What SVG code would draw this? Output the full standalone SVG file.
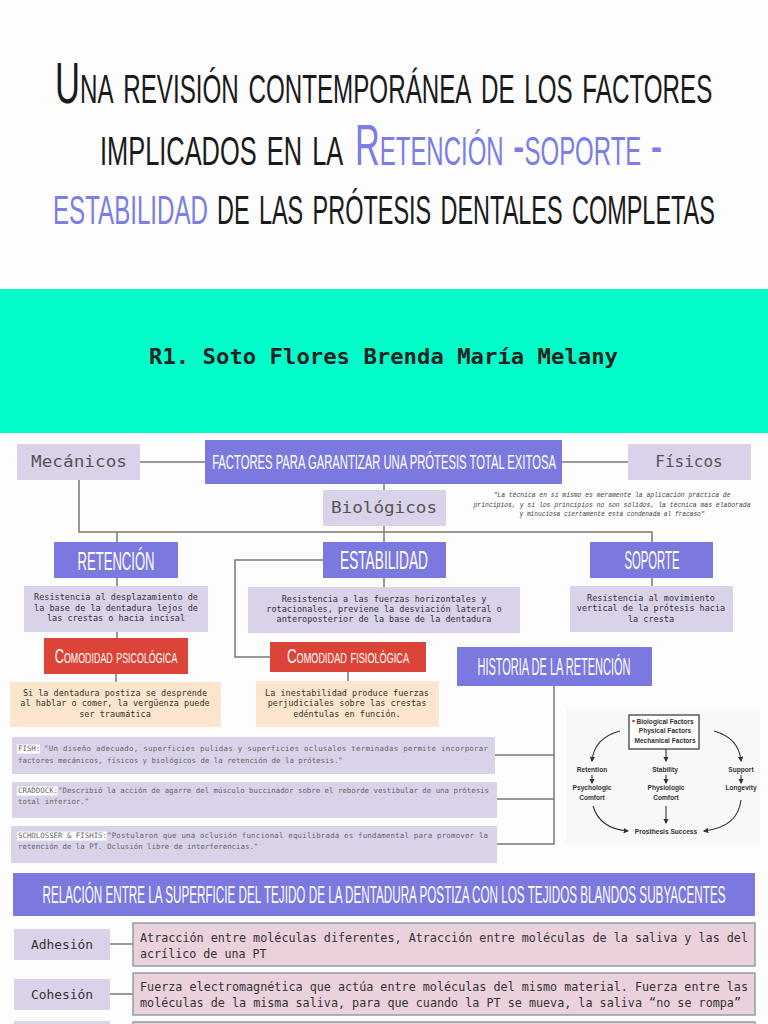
<svg xmlns="http://www.w3.org/2000/svg" width="768" height="1024" viewBox="0 0 768 1024">
<style>
.am{font-family:"Liberation Sans",Arial,sans-serif;fill:#ffffff;text-anchor:middle;}
.pur{fill:#7b79e0;}
.lav{fill:#d9d2e9;}
.red{fill:#dc4437;}
.peach{fill:#fce5cd;}
.pink{fill:#ead1dc;stroke:#8e9ea5;stroke-width:1.5;}
.desc{font-family:"DejaVu Sans Mono","Liberation Mono",monospace;font-size:8.5px;fill:#333;text-anchor:middle;}
.cite{font-family:"DejaVu Sans Mono","Liberation Mono",monospace;font-size:7.4px;fill:#666;}
.gr{font-family:"DejaVu Sans Mono","Liberation Mono",monospace;font-size:16px;fill:#555;text-anchor:middle;}
.fig{font-family:"Liberation Sans",Arial,sans-serif;font-size:6.6px;font-weight:bold;fill:#333;text-anchor:middle;}
.bt{font-family:"DejaVu Sans Mono","Liberation Mono",monospace;font-size:11.7px;fill:#333;}
.tt{font-family:"Liberation Sans",Arial,sans-serif;font-size:58px;font-variant:small-caps;fill:#1a1a1a;}
.sc{font-variant:small-caps;}
.tp{fill:#7b7ee6;}
.conn line,.conn path{stroke:#777;stroke-width:1.5;fill:none;}
.farr{stroke:#333;stroke-width:1.1;fill:none;marker-end:url(#ah);}
</style>
<defs>
<marker id="ah" viewBox="0 0 10 10" refX="8" refY="5" markerWidth="5" markerHeight="5" orient="auto">
<path d="M0,0 L10,5 L0,10 z" fill="#333"/>
</marker>
</defs>
<rect x="0" y="0" width="768" height="1024" fill="#fdfdfd"/>
<g id="title">
<text class="tt" transform="translate(55,103) scale(0.64,1)" x="0" y="0" textLength="1027" lengthAdjust="spacingAndGlyphs">Una revisión contemporánea de los factores</text>
<text class="tt" transform="translate(100,165) scale(0.64,1)" x="0" y="0" textLength="380" lengthAdjust="spacingAndGlyphs">implicados en la</text>
<text class="tt tp" transform="translate(355,165) scale(0.64,1)" x="0" y="0" textLength="480" lengthAdjust="spacingAndGlyphs">Retención -soporte -</text>
<text class="tt tp" transform="translate(53,224) scale(0.64,1)" x="0" y="0" textLength="242" lengthAdjust="spacingAndGlyphs">estabilidad</text>
<text class="tt" transform="translate(217,224) scale(0.64,1)" x="0" y="0" textLength="778" lengthAdjust="spacingAndGlyphs">de las prótesis dentales completas</text>
</g>
<g id="author">
<rect x="0" y="289" width="768" height="144" fill="#02fdca"/>
<text x="149" y="364" font-family="DejaVu Sans Mono,Liberation Mono,monospace" font-weight="bold" font-size="21" fill="#222" textLength="469" lengthAdjust="spacingAndGlyphs">R1. Soto Flores Brenda María Melany</text>
</g>
<g class="conn" id="connectors">
<line x1="140" y1="462" x2="205" y2="462"/>
<line x1="562" y1="462" x2="628" y2="462"/>
<line x1="384" y1="484" x2="384" y2="490"/>
<line x1="384" y1="526" x2="384" y2="542"/>
<path d="M79,480 V532 H652 V542"/>
<line x1="117" y1="532" x2="117" y2="542"/>
<line x1="117" y1="578" x2="117" y2="586"/>
<line x1="117" y1="632" x2="117" y2="638"/>
<line x1="116" y1="674" x2="116" y2="682"/>
<line x1="384" y1="578" x2="384" y2="587"/>
<line x1="652" y1="578" x2="652" y2="586"/>
<path d="M323,560 H235 V657 H270"/>
<line x1="348" y1="672" x2="348" y2="681"/>
<path d="M554,686 V844 H496"/>
<line x1="495" y1="755" x2="554" y2="755"/>
<line x1="497" y1="799" x2="554" y2="799"/>
<line x1="110" y1="944" x2="133" y2="944"/>
<line x1="110" y1="994" x2="133" y2="994"/>
</g>
<g id="mecanicos"><rect class="lav" x="17" y="444" width="123" height="36"/><text class="gr" x="79" y="467" textLength="96" lengthAdjust="spacingAndGlyphs">Mecánicos</text></g>
<g id="factores"><rect class="pur" x="205" y="440" width="357" height="44"/><text class="am" transform="translate(384,469) scale(0.55,1)" x="0" y="0" font-size="20" textLength="625" lengthAdjust="spacingAndGlyphs">FACTORES PARA GARANTIZAR UNA PRÓTESIS TOTAL EXITOSA</text></g>
<g id="fisicos"><rect class="lav" x="628" y="444" width="123" height="36"/><text class="gr" x="689" y="467">Físicos</text></g>
<g id="biologicos"><rect class="lav" x="323" y="490" width="123" height="36"/><text class="gr" x="384" y="513" textLength="106" lengthAdjust="spacingAndGlyphs">Biológicos</text></g>
<g id="quote" font-family="Liberation Mono,monospace" font-style="italic" font-size="6.4" fill="#444" text-anchor="middle">
<text x="612" y="497" textLength="237" lengthAdjust="spacingAndGlyphs">"La técnica en sí mismo es meramente la aplicación práctica de</text>
<text x="612" y="507" textLength="277" lengthAdjust="spacingAndGlyphs">principios, y si los principios no son sólidos, la técnica más elaborada</text>
<text x="612" y="516" textLength="185" lengthAdjust="spacingAndGlyphs">y minuciosa ciertamente está condenada al fracaso"</text>
</g>
<g id="retencion"><rect class="pur" x="54" y="542" width="124" height="36"/><text class="am" transform="translate(116,570) scale(0.5,1)" x="0" y="0" font-size="25" textLength="154" lengthAdjust="spacingAndGlyphs">RETENCIÓN</text></g>
<g id="estabilidad"><rect class="pur" x="323" y="542" width="123" height="36"/><text class="am" transform="translate(384,569) scale(0.5,1)" x="0" y="0" font-size="25" textLength="176" lengthAdjust="spacingAndGlyphs">ESTABILIDAD</text></g>
<g id="soporte"><rect class="pur" x="590" y="542" width="123" height="36"/><text class="am" transform="translate(652,569) scale(0.45,1)" x="0" y="0" font-size="25" textLength="122" lengthAdjust="spacingAndGlyphs">SOPORTE</text></g>
<g id="retencion-desc"><rect class="lav" x="24" y="586" width="184" height="46"/>
<text class="desc" x="116" y="600">Resistencia al desplazamiento de</text>
<text class="desc" x="116" y="611">la base de la dentadura lejos de</text>
<text class="desc" x="116" y="621">las crestas o hacia incisal</text></g>
<g id="estabilidad-desc"><rect class="lav" x="248" y="587" width="272" height="46"/>
<text class="desc" x="384" y="602">Resistencia a las fuerzas horizontales y</text>
<text class="desc" x="384" y="612">rotacionales, previene la desviación lateral o</text>
<text class="desc" x="384" y="622">anteroposterior de la base de la dentadura</text></g>
<g id="soporte-desc"><rect class="lav" x="570" y="586" width="163" height="46"/>
<text class="desc" x="651" y="601">Resistencia al movimiento</text>
<text class="desc" x="651" y="611">vertical de la prótesis hacia</text>
<text class="desc" x="651" y="622">la cresta</text></g>
<g id="comodidad-psicologica"><rect class="red" x="44" y="638" width="144" height="36"/><text class="am sc" transform="translate(116,663) scale(0.62,1)" x="0" y="0" font-size="21" textLength="198" lengthAdjust="spacingAndGlyphs">Comodidad psicológica</text></g>
<g id="comodidad-fisiologica"><rect class="red" x="270" y="642" width="156" height="30"/><text class="am sc" transform="translate(348,663) scale(0.62,1)" x="0" y="0" font-size="21" textLength="197" lengthAdjust="spacingAndGlyphs">Comodidad fisiológica</text></g>
<g id="historia"><rect class="pur" x="457" y="647" width="195" height="39"/><text class="am" transform="translate(554,675) scale(0.45,1)" x="0" y="0" font-size="23" textLength="340" lengthAdjust="spacingAndGlyphs">HISTORIA DE LA RETENCIÓN</text></g>
<g id="psicologica-desc"><rect class="peach" x="10" y="682" width="211" height="45"/>
<text class="desc" x="115" y="696">Si la dentadura postiza se desprende</text>
<text class="desc" x="115" y="706">al hablar o comer, la vergüenza puede</text>
<text class="desc" x="115" y="717">ser traumática</text></g>
<g id="fisiologica-desc"><rect class="peach" x="256" y="681" width="183" height="46"/>
<text class="desc" x="347" y="696">La inestabilidad produce fuerzas</text>
<text class="desc" x="347" y="706">perjudiciales sobre las crestas</text>
<text class="desc" x="347" y="717">edéntulas en función.</text></g>
<g id="fish"><rect class="lav" x="12" y="737" width="483" height="37"/>
<rect x="17" y="744.5" width="23" height="9" fill="#fff"/>
<text class="cite" x="18" y="751">FISH:</text>
<text class="cite" x="44" y="751" textLength="444" lengthAdjust="spacing">"Un diseño adecuado, superficies pulidas y superficies oclusales terminadas permite incorporar</text>
<text class="cite" x="18" y="763">factores mecánicos, físicos y biológicos de la retención de la prótesis."</text></g>
<g id="craddock"><rect class="lav" x="12" y="782" width="485" height="36"/>
<rect x="17" y="786.5" width="40.5" height="9" fill="#fff"/>
<text class="cite" x="18" y="793">CRADDOCK:</text>
<text class="cite" x="58" y="793" textLength="431" lengthAdjust="spacing">"Describió la acción de agarre del músculo buccinador sobre el reborde vestibular de una prótesis</text>
<text class="cite" x="18" y="804">total inferior."</text></g>
<g id="scholosser"><rect class="lav" x="11" y="826" width="486" height="37"/>
<rect x="17" y="831.5" width="89.5" height="9" fill="#fff"/>
<text class="cite" x="18" y="838">SCHOLOSSER &amp; FISHIS:</text>
<text class="cite" x="107" y="838" textLength="381" lengthAdjust="spacing">"Postularon que una oclusión funcional equilibrada es fundamental para promover la</text>
<text class="cite" x="18" y="849">retención de la PT. Oclusión libre de interferencias."</text></g>
<g id="figure">
<rect x="566" y="708" width="194" height="138" fill="#f8f8f8"/>
<rect x="629" y="715" width="70" height="34" fill="#fff" stroke="#333" stroke-width="1.2"/>
<circle cx="633.5" cy="721" r="1.3" fill="#e03030"/>
<text class="fig" x="665" y="724">Biological Factors</text>
<text class="fig" x="665" y="733">Physical Factors</text>
<text class="fig" x="665" y="743">Mechanical Factors</text>
<path class="farr" d="M620,731 Q594,738 592,761"/>
<path class="farr" d="M666,749 L666,761"/>
<path class="farr" d="M714,731 Q739,738 741,761"/>
<text class="fig" x="592" y="772">Retention</text>
<text class="fig" x="665" y="772">Stability</text>
<text class="fig" x="741" y="772">Support</text>
<path class="farr" d="M592,775 L592,783"/>
<path class="farr" d="M666,775 L666,783"/>
<path class="farr" d="M741,775 L741,783"/>
<text class="fig" x="592" y="790">Psychologic</text>
<text class="fig" x="592" y="800">Comfort</text>
<text class="fig" x="666" y="790">Physiologic</text>
<text class="fig" x="666" y="800">Comfort</text>
<text class="fig" x="741" y="790">Longevity</text>
<path class="farr" d="M593,806 Q600,829 628,831"/>
<path class="farr" d="M666,806 L666,823"/>
<path class="farr" d="M741,800 Q738,827 704,831"/>
<text class="fig" x="666" y="834">Prosthesis Success</text>
</g>
<g id="relacion"><rect class="pur" x="13" y="873" width="742" height="43"/><text class="am" transform="translate(384,903) scale(0.5,1)" x="0" y="0" font-size="23" textLength="1366" lengthAdjust="spacingAndGlyphs">RELACIÓN ENTRE LA SUPERFICIE DEL TEJIDO DE LA DENTADURA POSTIZA CON LOS TEJIDOS BLANDOS SUBYACENTES</text></g>
<g id="adhesion"><rect class="lav" x="14" y="929" width="96" height="31"/><text class="bt" x="62" y="949" text-anchor="middle" textLength="62" lengthAdjust="spacingAndGlyphs">Adhesión</text></g>
<g id="adhesion-desc"><rect class="pink" x="133" y="923" width="622" height="43"/>
<text class="bt" x="140" y="942" textLength="608" lengthAdjust="spacingAndGlyphs">Atracción entre moléculas diferentes, Atracción entre moléculas de la saliva y las del</text>
<text class="bt" x="140" y="958">acrílico de una PT</text></g>
<g id="cohesion"><rect class="lav" x="14" y="979" width="96" height="31"/><text class="bt" x="62" y="999" text-anchor="middle" textLength="62" lengthAdjust="spacingAndGlyphs">Cohesión</text></g>
<g id="cohesion-desc"><rect class="pink" x="133" y="973" width="622" height="42"/>
<text class="bt" x="140" y="991" textLength="608" lengthAdjust="spacingAndGlyphs">Fuerza electromagnética que actúa entre moléculas del mismo material. Fuerza entre las</text>
<text class="bt" x="140" y="1007" textLength="601" lengthAdjust="spacingAndGlyphs">moléculas de la misma saliva, para que cuando la PT se mueva, la saliva “no se rompa”</text></g>
<g id="next-row"><rect class="lav" x="14" y="1021" width="96" height="10"/><rect class="pink" x="133" y="1022" width="622" height="10"/></g>
</svg>
